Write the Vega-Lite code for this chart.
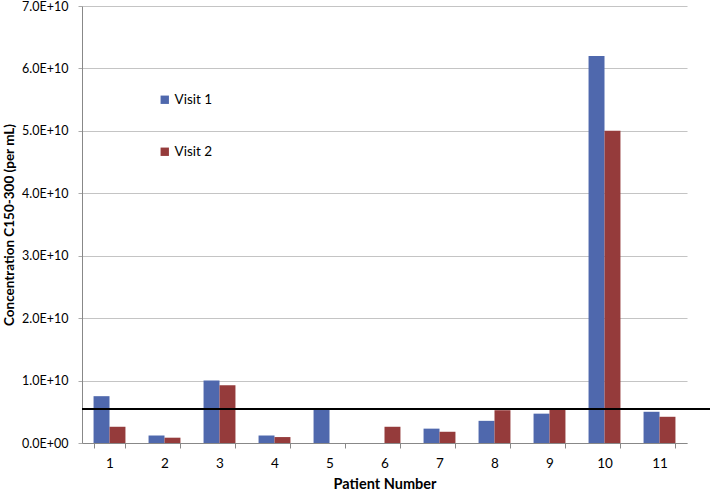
{
  "$schema": "https://vega.github.io/schema/vega-lite/v6.json",
  "width": 605,
  "height": 437,
  "autosize": "none",
  "padding": {"left": 82, "top": 6, "right": 24, "bottom": 49},
  "background": "white",
  "config": {
    "font": "Lato",
    "view": {"stroke": null}
  },
  "data": {
    "values": [
      {"patient": "1", "visit": "Visit 1", "value": 7.5e9},
      {"patient": "1", "visit": "Visit 2", "value": 2.6e9},
      {"patient": "2", "visit": "Visit 1", "value": 1.2e9},
      {"patient": "2", "visit": "Visit 2", "value": 0.85e9},
      {"patient": "3", "visit": "Visit 1", "value": 1.0e10},
      {"patient": "3", "visit": "Visit 2", "value": 9.25e9},
      {"patient": "4", "visit": "Visit 1", "value": 1.2e9},
      {"patient": "4", "visit": "Visit 2", "value": 0.95e9},
      {"patient": "5", "visit": "Visit 1", "value": 5.5e9},
      {"patient": "5", "visit": "Visit 2", "value": 0},
      {"patient": "6", "visit": "Visit 1", "value": 0},
      {"patient": "6", "visit": "Visit 2", "value": 2.6e9},
      {"patient": "7", "visit": "Visit 1", "value": 2.3e9},
      {"patient": "7", "visit": "Visit 2", "value": 1.8e9},
      {"patient": "8", "visit": "Visit 1", "value": 3.55e9},
      {"patient": "8", "visit": "Visit 2", "value": 5.25e9},
      {"patient": "9", "visit": "Visit 1", "value": 4.7e9},
      {"patient": "9", "visit": "Visit 2", "value": 5.35e9},
      {"patient": "10", "visit": "Visit 1", "value": 6.2e10},
      {"patient": "10", "visit": "Visit 2", "value": 5.0e10},
      {"patient": "11", "visit": "Visit 1", "value": 5.0e9},
      {"patient": "11", "visit": "Visit 2", "value": 4.2e9}
    ]
  },
  "layer": [
    {
      "mark": {"type": "bar"},
      "encoding": {
        "x": {
          "field": "patient",
          "type": "ordinal",
          "sort": null,
          "scale": {"paddingInner": 0.42, "paddingOuter": 0.21},
          "axis": {
            "title": "Patient Number",
            "titleFont": "Lato",
            "titleFontSize": 14.5,
            "titleFontWeight": "bold",
            "titleColor": "#000",
            "titlePadding": 8,
            "labelAngle": 0,
            "labelFontSize": 13.5,
            "labelColor": "#000",
            "labelPadding": 8,
            "tickBand": "extent",
            "tickColor": "#888",
            "tickSize": 5,
            "domainColor": "#888",
            "grid": false
          }
        },
        "xOffset": {"field": "visit", "type": "nominal"},
        "y": {
          "field": "value",
          "type": "quantitative",
          "scale": {"domain": [0, 7e10]},
          "axis": {
            "title": "Concentration C150-300 (per mL)",
            "titleFontSize": 13.5,
            "titleFontWeight": "bold",
            "titleColor": "#000",
            "titlePadding": 5,
            "values": [0, 1e10, 2e10, 3e10, 4e10, 5e10, 6e10, 7e10],
            "labelExpr": "datum.value == 0 ? '0.0E+00' : replace(format(datum.value, '.1e'), 'e', 'E')",
            "labelFontSize": 12.5,
            "labelColor": "#000",
            "labelPadding": 10,
            "tickColor": "#aaa",
            "tickSize": 4,
            "domainColor": "#888",
            "gridColor": "#c4c4c4",
            "gridWidth": 1.2
          }
        },
        "color": {
          "field": "visit",
          "type": "nominal",
          "scale": {"domain": ["Visit 1", "Visit 2"], "range": ["#4F68AD", "#953B3B"]},
          "legend": {
            "title": null,
            "orient": "none",
            "legendX": 76,
            "legendY": 87,
            "symbolType": "square",
            "symbolSize": 70,
            "symbolStrokeWidth": 0,
            "labelFontSize": 13.5,
            "labelColor": "#000",
            "labelOffset": 3,
            "rowPadding": 37
          }
        }
      }
    },
    {
      "mark": {"type": "rule", "color": "#000", "strokeWidth": 1.3, "clip": false, "x2Offset": 23},
      "encoding": {"y": {"datum": 5.5e9}, "x": {"value": 0}, "x2": {"value": "width"}}
    }
  ]
}
